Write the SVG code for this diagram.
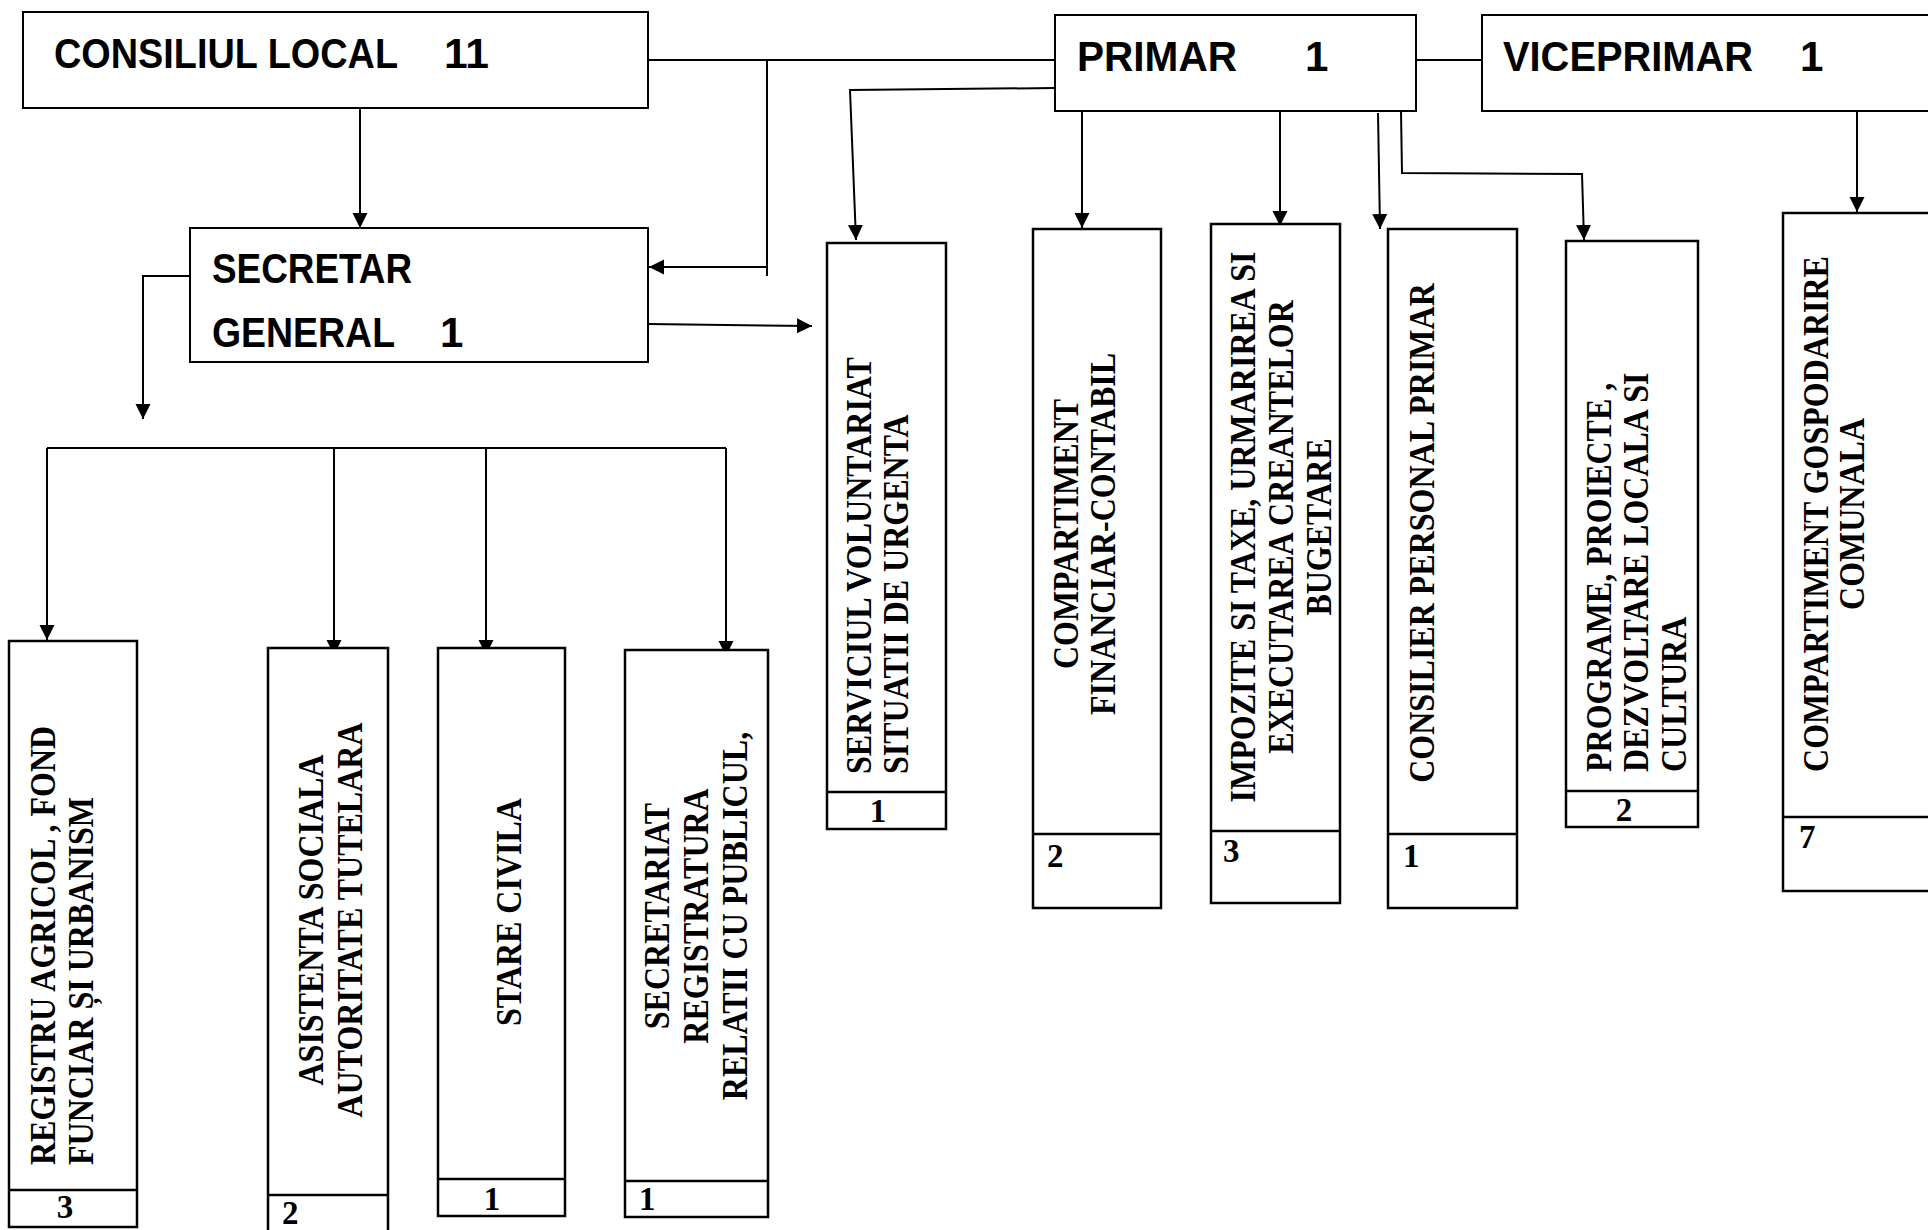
<svg xmlns="http://www.w3.org/2000/svg" width="1928" height="1230" viewBox="0 0 1928 1230">
<style>
.box{fill:#fff;stroke:#000;stroke-width:2}
.cell{fill:#fff;stroke:#000;stroke-width:2.5}
.dv{stroke:#000;stroke-width:2.5}
.h{font-family:"Liberation Sans",Arial,sans-serif;font-weight:bold;font-size:42px;fill:#000}
.v{font-family:"Liberation Serif","Times New Roman",serif;font-weight:bold;font-size:32px;fill:#000}
.n{font-family:"Liberation Serif","Times New Roman",serif;font-weight:bold;font-size:33px;fill:#000}
.c{text-anchor:middle}
.ln{fill:none;stroke:#000;stroke-width:2}
.ar{fill:none;stroke:#000;stroke-width:2;marker-end:url(#ah)}
</style>
<defs>
<marker id="ah" markerUnits="userSpaceOnUse" markerWidth="16" markerHeight="16" refX="15" refY="7.5" orient="auto">
<path d="M0,0 L15,7.5 L0,15 z" fill="#000"/>
</marker>
</defs>
<rect width="1928" height="1230" fill="#fff"/>

<g id="connectors">
<line class="ln" x1="647" y1="60" x2="1055" y2="60"/>
<line class="ln" x1="767" y1="60" x2="767" y2="276"/>
<line class="ar" x1="767" y1="267" x2="649" y2="267"/>
<line class="ar" x1="360" y1="108" x2="360" y2="228"/>
<line class="ar" x1="648" y1="324" x2="812" y2="326"/>
<polyline class="ar" points="1055,88 850,90 856,240"/>
<line class="ar" x1="1082" y1="111" x2="1082" y2="228"/>
<line class="ar" x1="1280" y1="111" x2="1280" y2="226"/>
<line class="ar" x1="1378" y1="113" x2="1380" y2="229"/>
<polyline class="ar" points="1401,111 1402,173 1582,174 1584,240"/>
<line class="ln" x1="1416" y1="60" x2="1482" y2="60"/>
<line class="ar" x1="1857" y1="105" x2="1857" y2="212"/>
<polyline class="ar" points="190,276 143,276 143,419"/>
<line class="ln" x1="47" y1="448" x2="726" y2="448"/>
<line class="ar" x1="47" y1="448" x2="47" y2="640"/>
<line class="ar" x1="334" y1="448" x2="334" y2="655"/>
<line class="ar" x1="486" y1="448" x2="486" y2="655"/>
<line class="ar" x1="726" y1="448" x2="726" y2="656"/>
</g>

<g id="consiliul-local">
<rect class="box" x="23" y="12" width="625" height="96"/>
<text class="h" x="54" y="68" textLength="344" lengthAdjust="spacingAndGlyphs">CONSILIUL LOCAL</text>
<text class="h" x="444" y="68" textLength="45" lengthAdjust="spacingAndGlyphs">11</text>
</g>

<g id="secretar-general">
<rect class="box" x="190" y="228" width="458" height="134"/>
<text class="h" x="212" y="283" textLength="200" lengthAdjust="spacingAndGlyphs">SECRETAR</text>
<text class="h" x="212" y="347" textLength="183" lengthAdjust="spacingAndGlyphs">GENERAL</text>
<text class="h" x="440" y="347">1</text>
</g>

<g id="primar">
<rect class="box" x="1055" y="15" width="361" height="96"/>
<text class="h" x="1077" y="71" textLength="160" lengthAdjust="spacingAndGlyphs">PRIMAR</text>
<text class="h" x="1305" y="71">1</text>
</g>

<g id="viceprimar">
<rect class="box" x="1482" y="15" width="470" height="96"/>
<text class="h" x="1503" y="71" textLength="250" lengthAdjust="spacingAndGlyphs">VICEPRIMAR</text>
<text class="h" x="1800" y="71">1</text>
</g>

<g id="serviciul-voluntariat">
<rect class="cell" x="827" y="243" width="119" height="586"/>
<line class="dv" x1="827" y1="792" x2="946" y2="792"/>
<text class="v" transform="translate(871,774) rotate(-90) scale(1,1.12)">SERVICIUL VOLUNTARIAT</text>
<text class="v" transform="translate(908,774) rotate(-90) scale(1,1.12)">SITUATII DE URGENTA</text>
<text class="n c" x="878" y="822">1</text>
</g>

<g id="compartiment-financiar">
<rect class="cell" x="1033" y="229" width="128" height="679"/>
<line class="dv" x1="1033" y1="834" x2="1161" y2="834"/>
<text class="v c" transform="translate(1078,534) rotate(-90) scale(1,1.12)">COMPARTIMENT</text>
<text class="v c" transform="translate(1115,534) rotate(-90) scale(1,1.12)">FINANCIAR-CONTABIL</text>
<text class="n" x="1047" y="867">2</text>
</g>

<g id="impozite-taxe">
<rect class="cell" x="1211" y="224" width="129" height="679"/>
<line class="dv" x1="1211" y1="831" x2="1340" y2="831"/>
<text class="v c" transform="translate(1255,527) rotate(-90) scale(1,1.12)">IMPOZITE SI TAXE, URMARIREA SI</text>
<text class="v c" transform="translate(1293,527) rotate(-90) scale(1,1.12)">EXECUTAREA CREANTELOR</text>
<text class="v c" transform="translate(1331,527) rotate(-90) scale(1,1.12)">BUGETARE</text>
<text class="n" x="1223" y="862">3</text>
</g>

<g id="consilier-personal">
<rect class="cell" x="1388" y="229" width="129" height="679"/>
<line class="dv" x1="1388" y1="834" x2="1517" y2="834"/>
<text class="v c" transform="translate(1434,533) rotate(-90) scale(1,1.12)">CONSILIER PERSONAL PRIMAR</text>
<text class="n" x="1403" y="867">1</text>
</g>

<g id="programe-proiecte">
<rect class="cell" x="1566" y="241" width="132" height="586"/>
<line class="dv" x1="1566" y1="791" x2="1698" y2="791"/>
<text class="v" transform="translate(1611,772) rotate(-90) scale(1,1.12)">PROGRAME, PROIECTE ,</text>
<text class="v" transform="translate(1648,772) rotate(-90) scale(1,1.12)">DEZVOLTARE LOCALA SI</text>
<text class="v" transform="translate(1686,772) rotate(-90) scale(1,1.12)">CULTURA</text>
<text class="n c" x="1624" y="821">2</text>
</g>

<g id="compartiment-gospodarire">
<rect class="cell" x="1783" y="213" width="170" height="678"/>
<line class="dv" x1="1783" y1="817" x2="1953" y2="817"/>
<text class="v c" transform="translate(1828,514) rotate(-90) scale(1,1.12)">COMPARTIMENT GOSPODARIRE</text>
<text class="v c" transform="translate(1864,514) rotate(-90) scale(1,1.12)">COMUNALA</text>
<text class="n" x="1799" y="848">7</text>
</g>

<g id="registru-agricol">
<rect class="cell" x="9" y="641" width="128" height="586"/>
<line class="dv" x1="9" y1="1190" x2="137" y2="1190"/>
<text class="v" transform="translate(55,1165) rotate(-90) scale(1,1.12)">REGISTRU AGRICOL , FOND</text>
<text class="v" transform="translate(93,1165) rotate(-90) scale(1,1.12)">FUNCIAR ȘI URBANISM</text>
<text class="n c" x="65" y="1218">3</text>
</g>

<g id="asistenta-sociala">
<rect class="cell" x="268" y="648" width="120" height="640"/>
<line class="dv" x1="268" y1="1195" x2="388" y2="1195"/>
<text class="v c" transform="translate(323,920) rotate(-90) scale(1,1.12)">ASISTENTA SOCIALA</text>
<text class="v c" transform="translate(362,920) rotate(-90) scale(1,1.12)">AUTORITATE TUTELARA</text>
<text class="n" x="282" y="1224">2</text>
</g>

<g id="stare-civila">
<rect class="cell" x="438" y="648" width="127" height="568"/>
<line class="dv" x1="438" y1="1179" x2="565" y2="1179"/>
<text class="v c" transform="translate(521,912) rotate(-90) scale(1,1.12)">STARE CIVILA</text>
<text class="n c" x="492" y="1210">1</text>
</g>

<g id="secretariat-registratura">
<rect class="cell" x="625" y="650" width="143" height="567"/>
<line class="dv" x1="625" y1="1181" x2="768" y2="1181"/>
<text class="v c" transform="translate(669,916) rotate(-90) scale(1,1.12)">SECRETARIAT</text>
<text class="v c" transform="translate(708,916) rotate(-90) scale(1,1.12)">REGISTRATURA</text>
<text class="v c" transform="translate(747,916) rotate(-90) scale(1,1.12)">RELATII CU PUBLICUL,</text>
<text class="n" x="639" y="1210">1</text>
</g>
</svg>
